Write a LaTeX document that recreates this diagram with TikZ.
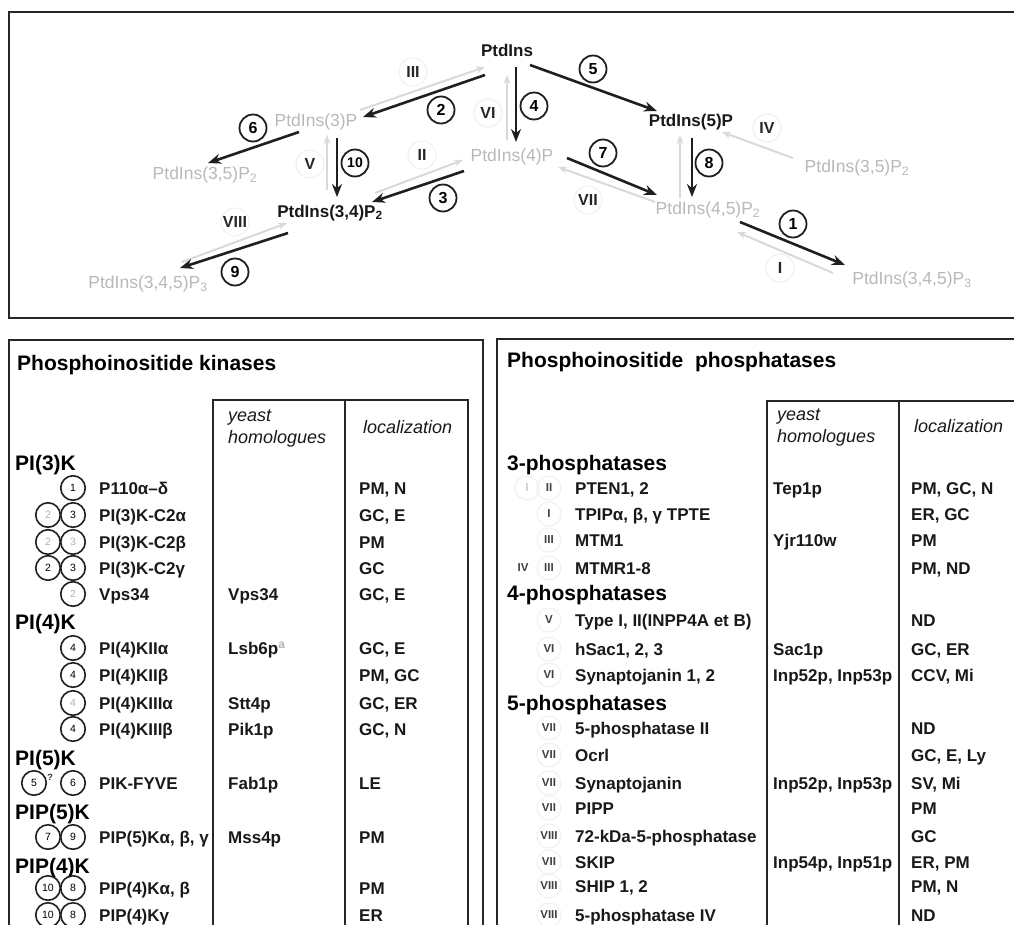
\documentclass[tikz,border=0pt]{standalone}
\usepackage{fontspec}
\setmainfont{Liberation Sans}
\usetikzlibrary{arrows.meta,calc}
\begin{document}
\begin{tikzpicture}[x=1pt,y=-1pt,
  frame/.style={line width=2pt,draw=black!85},
  blk/.style={line width=2.6pt,draw=black!88,-{Stealth[length=13pt,width=10pt]}},
  gry/.style={line width=2pt,draw=gray!30,-{Stealth[length=9pt,width=7pt]}},
  cnum/.style={circle,draw=black!88,line width=1.8pt,minimum size=27pt,inner sep=0pt,font=\bfseries\fontsize{16}{16}\selectfont},
  cten/.style={cnum,font=\bfseries\fontsize{14}{14}\selectfont},
  rlab/.style={circle,draw=gray!12,line width=1pt,minimum size=28pt,inner sep=0pt,font=\bfseries\fontsize{16}{16}\selectfont,text=black!85},
  bnode/.style={inner sep=1pt,font=\bfseries\fontsize{17}{17}\selectfont,text=black!90},
  gnode/.style={inner sep=1pt,font=\fontsize{17.5}{17.5}\selectfont,text=gray!55},
  tc/.style={circle,draw=black!88,line width=1.6pt,minimum size=24.5pt,inner sep=0pt,font=\fontsize{10.5}{10.5}\selectfont},
  tcg/.style={tc,text=gray!60},
  rn/.style={circle,draw=gray!12,line width=1pt,minimum size=24pt,inner sep=0pt,font=\bfseries\fontsize{11.5}{11.5}\selectfont,text=black!75},
  rnl/.style={rn,text=gray!40},
  bt/.style={anchor=base west,inner sep=0pt,font=\bfseries\fontsize{17}{17}\selectfont,text=black!90},
  hd/.style={anchor=base west,inner sep=0pt,font=\bfseries\fontsize{21}{21}\selectfont,text=black},
  ith/.style={anchor=base west,inner sep=0pt,font=\itshape\fontsize{18}{18}\selectfont,text=black!90},
  tline/.style={line width=2pt,draw=black!85}
]
\useasboundingbox (0,0) rectangle (1014,924);
\fill[white] (0,0) rectangle (1014,924);

% ---------- top panel ----------
\draw[frame] (9,12) rectangle (1030,318);

\node[bnode] (ptd) at (507,50) {PtdIns};
\node[gnode] (p3) at (316,122) {PtdIns(3)P};
\node[gnode] (p35l) at (205,175) {PtdIns(3,5)P\textsubscript{2}};
\node[bnode] (p34) at (330,213) {PtdIns(3,4)P\textsubscript{2}};
\node[gnode] (p345l) at (148,284) {PtdIns(3,4,5)P\textsubscript{3}};
\node[gnode] (p4) at (512,157) {PtdIns(4)P};
\node[bnode] (p5) at (691,122) {PtdIns(5)P};
\node[gnode] (p35r) at (857,168) {PtdIns(3,5)P\textsubscript{2}};
\node[gnode] (p45) at (708,210) {PtdIns(4,5)P\textsubscript{2}};
\node[gnode] (p345r) at (912,280) {PtdIns(3,4,5)P\textsubscript{3}};

% grey (phosphatase) arrows
\draw[gry] ($(p3)+(44,-12)$) -- ($(ptd)+(-22,17)$);
\draw[gry] ($(p4)+(-5,-17)$) -- ($(ptd)+(0,25)$);
\draw[gry] ($(p34)+(-3,-23)$) -- ($(p3)+(11,13)$);
\draw[gry] ($(p34)+(45,-20)$) -- ($(p4)+(-49,3)$);
\draw[gry] ($(p345l)+(34,-22)$) -- ($(p34)+(-43,10)$);
\draw[gry] ($(p45)+(-53,-8)$) -- ($(p4)+(46,10)$);
\draw[gry] ($(p45)+(-28,-12)$) -- ($(p5)+(-11,13)$);
\draw[gry] ($(p35r)+(-64,-10)$) -- ($(p5)+(31,10)$);
\draw[gry] ($(p345r)+(-79,-7)$) -- ($(p45)+(29,22)$);

% black (kinase) arrows
\draw[blk] ($(ptd)+(-22,25)$) -- ($(p3)+(47,-5)$);
\draw[blk] ($(ptd)+(9,17)$) -- ($(p4)+(4,-15)$);
\draw[blk] ($(ptd)+(23,15)$) -- ($(p5)+(-34,-11)$);
\draw[blk] ($(p3)+(-17,10)$) -- ($(p35l)+(3,-12)$);
\draw[blk] ($(p3)+(21,16)$) -- ($(p34)+(7,-16)$);
\draw[blk] ($(p4)+(-48,14)$) -- ($(p34)+(42,-11)$);
\draw[blk] ($(p34)+(-42,20)$) -- ($(p345l)+(32,-16)$);
\draw[blk] ($(p4)+(55,1)$) -- ($(p45)+(-51,-15)$);
\draw[blk] ($(p5)+(1,16)$) -- ($(p45)+(-16,-13)$);
\draw[blk] ($(p45)+(32,12)$) -- ($(p345r)+(-67,-15)$);

% roman labels
\node[rlab] (rIII) at (413,72) {III};
\node[rlab] (rVI) at (488,113) {VI};
\node[rlab] (rV) at (310,164) {V};
\node[rlab] (rII) at (422,155) {II};
\node[rlab] (rVIII) at (235,222) {VIII};
\node[rlab] (rVII) at (588,200) {VII};
\node[rlab] (rIV) at (767,128) {IV};
\node[rlab] (rI) at (780,268) {I};

% circled numbers
\node[cnum] (n2) at (441,110) {2};
\node[cnum] (n4) at (534,106) {4};
\node[cnum] (n5) at (593,69) {5};
\node[cnum] (n6) at (253,128) {6};
\node[cten] (n10) at (355,163) {10};
\node[cnum] (n3) at (443,198) {3};
\node[cnum] (n9) at (235,272) {9};
\node[cnum] (n7) at (603,153) {7};
\node[cnum] (n8) at (709,163) {8};
\node[cnum] (n1) at (793,224) {1};

% ---------- left panel: kinases ----------
\draw[frame] (9,340) rectangle (483,940);
\draw[tline] (213,940) -- (213,400) -- (468,400) -- (468,940);
\draw[tline] (345,400) -- (345,940);

\node[hd] (kh) at (17,370.5) {Phosphoinositide kinases};
\node[ith] (ky1) at (228,421) {yeast};
\node[ith] (ky2) at (228,443) {homologues};
\node[ith] (kl) at (363,433) {localization};

\node[hd] (g1) at (15,470.5) {PI(3)K};
\node[tc] (c1a) at (73,488) {1};
\node[bt] (k1) at (99,494.3) {P110α–δ};
\node[bt] (k1l) at (359,494.3) {PM, N};

\node[tcg] (c2a) at (48,515) {2};
\node[tc] (c2b) at (73,515) {3};
\node[bt] (k2) at (99,521.3) {PI(3)K-C2α};
\node[bt] (k2l) at (359,521.3) {GC, E};

\node[tcg] (c3a) at (48,542) {2};
\node[tcg] (c3b) at (73,542) {3};
\node[bt] (k3) at (99,548.3) {PI(3)K-C2β};
\node[bt] (k3l) at (359,548.3) {PM};

\node[tc] (c4a) at (48,568) {2};
\node[tc] (c4b) at (73,568) {3};
\node[bt] (k4) at (99,574.3) {PI(3)K-C2γ};
\node[bt] (k4l) at (359,574.3) {GC};

\node[tcg] (c5a) at (73,594) {2};
\node[bt] (k5) at (99,600.3) {Vps34};
\node[bt] (k5y) at (228,600.3) {Vps34};
\node[bt] (k5l) at (359,600.3) {GC, E};

\node[hd] (g2) at (15,629.5) {PI(4)K};
\node[tc] (c6) at (73,648) {4};
\node[bt] (k6) at (99,654.3) {PI(4)KIIα};
\node[bt] (k6y) at (228,654.3) {Lsb6p\textsuperscript{\textcolor{gray!60}{a}}};
\node[bt] (k6l) at (359,654.3) {GC, E};

\node[tc] (c7) at (73,675) {4};
\node[bt] (k7) at (99,681.3) {PI(4)KIIβ};
\node[bt] (k7l) at (359,681.3) {PM, GC};

\node[tcg] (c8) at (73,703) {4};
\node[bt] (k8) at (99,709.3) {PI(4)KIIIα};
\node[bt] (k8y) at (228,709.3) {Stt4p};
\node[bt] (k8l) at (359,709.3) {GC, ER};

\node[tc] (c9) at (73,729) {4};
\node[bt] (k9) at (99,735.3) {PI(4)KIIIβ};
\node[bt] (k9y) at (228,735.3) {Pik1p};
\node[bt] (k9l) at (359,735.3) {GC, N};

\node[hd] (g3) at (15,765.5) {PI(5)K};
\node[tc] (c10a) at (34,783) {5};
\node[inner sep=0pt,font=\bfseries\fontsize{9}{9}\selectfont,text=black!80] (q) at (50,777) {?};
\node[tc] (c10b) at (73,783) {6};
\node[bt] (k10) at (99,789.3) {PIK-FYVE};
\node[bt] (k10y) at (228,789.3) {Fab1p};
\node[bt] (k10l) at (359,789.3) {LE};

\node[hd] (g4) at (15,819.5) {PIP(5)K};
\node[tc] (c11a) at (48,837) {7};
\node[tc] (c11b) at (73,837) {9};
\node[bt] (k11) at (99,843.3) {PIP(5)Kα, β, γ};
\node[bt] (k11y) at (228,843.3) {Mss4p};
\node[bt] (k11l) at (359,843.3) {PM};

\node[hd] (g5) at (15,873.5) {PIP(4)K};
\node[tc] (c12a) at (48,888) {10};
\node[tc] (c12b) at (73,888) {8};
\node[bt] (k12) at (99,894.3) {PIP(4)Kα, β};
\node[bt] (k12l) at (359,894.3) {PM};

\node[tc] (c13a) at (48,915) {10};
\node[tc] (c13b) at (73,915) {8};
\node[bt] (k13) at (99,921.3) {PIP(4)Kγ};
\node[bt] (k13l) at (359,921.3) {ER};

% ---------- right panel: phosphatases ----------
\draw[frame] (497,940) -- (497,339) -- (1030,339);
\draw[tline] (767,940) -- (767,401) -- (1030,401);
\draw[tline] (899,401) -- (899,940);

\node[hd] (ph) at (507,367.5) {Phosphoinositide\ \ phosphatases};
\node[ith] (py1) at (777,420) {yeast};
\node[ith] (py2) at (777,442) {homologues};
\node[ith] (pl) at (914,432) {localization};

\node[hd] (h1) at (507,470.5) {3-phosphatases};
\node[rnl] (r1a) at (527,488) {I};
\node[rn] (r1b) at (549,488) {II};
\node[bt] (q1) at (575,494.3) {PTEN1, 2};
\node[bt] (q1y) at (773,494.3) {Tep1p};
\node[bt] (q1l) at (911,494.3) {PM, GC, N};

\node[rn] (r2) at (549,514) {I};
\node[bt] (q2) at (575,520.3) {TPIPα, β, γ TPTE};
\node[bt] (q2l) at (911,520.3) {ER, GC};

\node[rn] (r3) at (549,540) {III};
\node[bt] (q3) at (575,546.3) {MTM1};
\node[bt] (q3y) at (773,546.3) {Yjr110w};
\node[bt] (q3l) at (911,546.3) {PM};

\node[rn,draw=none] (r4a) at (523,568) {IV};
\node[rn] (r4b) at (549,568) {III};
\node[bt] (q4) at (575,574.3) {MTMR1-8};
\node[bt] (q4l) at (911,574.3) {PM, ND};

\node[hd] (h2) at (507,600.5) {4-phosphatases};
\node[rn] (r5) at (549,620) {V};
\node[bt] (q5) at (575,626.3) {Type I, II(INPP4A et B)};
\node[bt] (q5l) at (911,626.3) {ND};

\node[rn] (r6) at (549,649) {VI};
\node[bt] (q6) at (575,655.3) {hSac1, 2, 3};
\node[bt] (q6y) at (773,655.3) {Sac1p};
\node[bt] (q6l) at (911,655.3) {GC, ER};

\node[rn] (r7) at (549,675) {VI};
\node[bt] (q7) at (575,681.3) {Synaptojanin 1, 2};
\node[bt] (q7y) at (773,681.3) {Inp52p, Inp53p};
\node[bt] (q7l) at (911,681.3) {CCV, Mi};

\node[hd] (h3) at (507,710.5) {5-phosphatases};
\node[rn] (r8) at (549,728) {VII};
\node[bt] (q8) at (575,734.3) {5-phosphatase II};
\node[bt] (q8l) at (911,734.3) {ND};

\node[rn] (r9) at (549,755) {VII};
\node[bt] (q9) at (575,761.3) {Ocrl};
\node[bt] (q9l) at (911,761.3) {GC, E, Ly};

\node[rn] (r10) at (549,783) {VII};
\node[bt] (q10) at (575,789.3) {Synaptojanin};
\node[bt] (q10y) at (773,789.3) {Inp52p, Inp53p};
\node[bt] (q10l) at (911,789.3) {SV, Mi};

\node[rn] (r11) at (549,808) {VII};
\node[bt] (q11) at (575,814.3) {PIPP};
\node[bt] (q11l) at (911,814.3) {PM};

\node[rn] (r12) at (549,836) {VIII};
\node[bt] (q12) at (575,842.3) {72-kDa-5-phosphatase};
\node[bt] (q12l) at (911,842.3) {GC};

\node[rn] (r13) at (549,862) {VII};
\node[bt] (q13) at (575,868.3) {SKIP};
\node[bt] (q13y) at (773,868.3) {Inp54p, Inp51p};
\node[bt] (q13l) at (911,868.3) {ER, PM};

\node[rn] (r14) at (549,886) {VIII};
\node[bt] (q14) at (575,892.3) {SHIP 1, 2};
\node[bt] (q14l) at (911,892.3) {PM, N};

\node[rn] (r15) at (549,915) {VIII};
\node[bt] (q15) at (575,921.3) {5-phosphatase IV};
\node[bt] (q15l) at (911,921.3) {ND};
\end{tikzpicture}
\end{document}
